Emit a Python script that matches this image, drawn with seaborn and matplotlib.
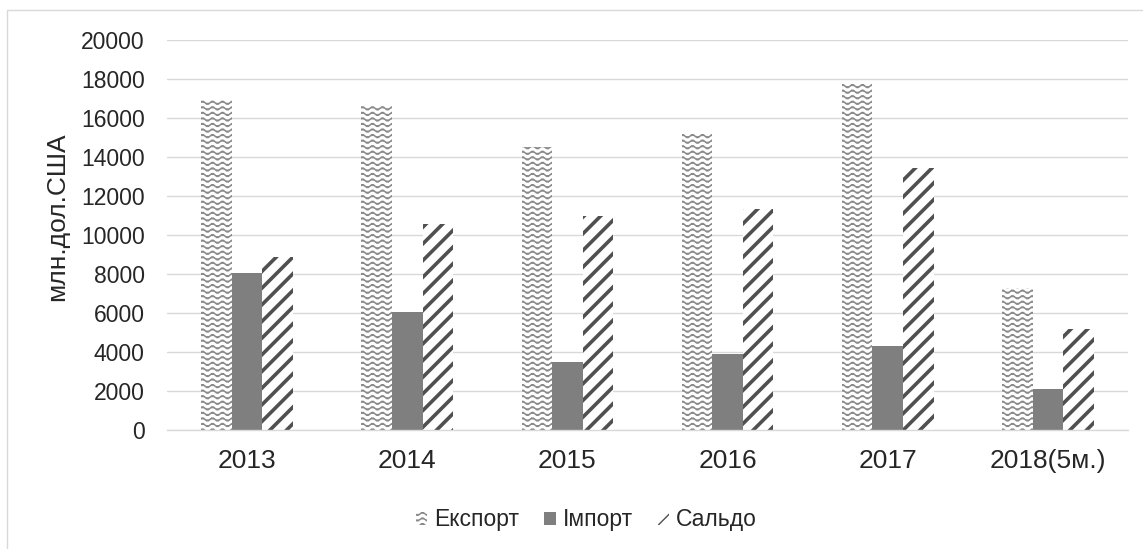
import warnings
import numpy as np
import pandas as pd
import matplotlib
matplotlib.use("Agg")
import matplotlib.pyplot as plt
import matplotlib.hatch as mhatch
from matplotlib.path import Path
from matplotlib.patches import Patch, Rectangle
import seaborn as sns

warnings.filterwarnings("ignore")

# Data (млн. дол. США)
years = ["2013", "2014", "2015", "2016", "2017", "2018(5м.)"]
series = ["Експорт", "Імпорт", "Сальдо"]
export = [16900, 16600, 14500, 15250, 17750, 7280]
imports = [8050, 6070, 3500, 3900, 4300, 2100]
saldo = [8870, 10550, 11000, 11350, 13450, 5200]
y_ticks = list(range(0, 20001, 2000))


# wavy hatch like the Excel pattern fill, used as '~'
class WaveHatch(mhatch.HatchPatternBase):
    def __init__(self, hatch, density):
        self.num_lines = int(hatch.count("~") * density)
        self.num_seg = 60
        self.num_vertices = self.num_lines * (self.num_seg + 1)

    def set_vertices_and_codes(self, vertices, codes):
        xs = np.linspace(0.0, 1.0, self.num_seg + 1)
        step = 1.0 / max(self.num_lines, 1)
        amp = step * 0.28
        n = self.num_seg + 1
        for i in range(self.num_lines):
            y0 = (i + 0.5) * step
            vertices[i * n:(i + 1) * n, 0] = xs
            vertices[i * n:(i + 1) * n, 1] = y0 + amp * np.sin(2 * np.pi * 10 * xs)
            codes[i * n] = Path.MOVETO
            codes[i * n + 1:(i + 1) * n] = Path.LINETO


mhatch._hatch_types.append(WaveHatch)

df = pd.DataFrame({
    "year": years * 3,
    "series": [series[0]] * 6 + [series[1]] * 6 + [series[2]] * 6,
    "value": export + imports + saldo,
})

sns.set_style("white")
plt.rcParams["font.family"] = ["Liberation Sans", "DejaVu Sans"]

fig = plt.figure(figsize=(11.43, 5.49), dpi=100)
ax = fig.add_axes([0.1461, 0.2168, 0.8408, 0.7103])

sns.barplot(data=df, x="year", y="value", hue="series", hue_order=series,
            palette=["white", "#7f7f7f", "white"], saturation=1,
            width=0.572, gap=0, legend=False, ax=ax)

styles = [
    dict(facecolor="white", edgecolor="#8a8a8a", hatch="~~~", hlw=1.1),
    dict(facecolor="#7f7f7f", edgecolor="#7f7f7f", hatch=None, hlw=1.0),
    dict(facecolor="white", edgecolor="#505050", hatch="//", hlw=2.6),
]


def apply_style(p, st):
    p.set_facecolor(st["facecolor"])
    p.set_edgecolor(st["edgecolor"])
    p.set_linewidth(0)
    p.set_hatch(st["hatch"])
    if hasattr(p, "set_hatch_linewidth"):
        p.set_hatch_linewidth(st["hlw"])


for cont, st in zip(ax.containers, styles):
    for p in cont.patches:
        apply_style(p, st)

ax.set_ylim(0, 20000)
ax.set_yticks(y_ticks)
ax.set_xlim(-0.5, len(years) - 0.5)
ax.yaxis.grid(True, color="#d9d9d9", linewidth=1.0)
ax.set_axisbelow(True)
for s in ["top", "right", "left"]:
    ax.spines[s].set_visible(False)
ax.spines["bottom"].set_color("#d9d9d9")
ax.spines["bottom"].set_linewidth(1.0)
ax.tick_params(axis="y", length=0, pad=16, labelsize=16.5)
ax.tick_params(axis="x", length=0, pad=14, labelsize=19)
ax.set_xlabel("")
ax.set_ylabel("млн.дол.США", fontsize=19)
ax.yaxis.set_label_coords(-0.102, 0.548)

handles = []
for st in styles:
    h = Patch(facecolor=st["facecolor"], edgecolor=st["edgecolor"],
              hatch=st["hatch"], linewidth=0)
    if hasattr(h, "set_hatch_linewidth"):
        h.set_hatch_linewidth(min(st["hlw"], 1.6))
    handles.append(h)
fig.legend(handles, series, loc="center", bbox_to_anchor=(0.513, 0.053),
           ncol=3, frameon=False, fontsize=16.5, handlelength=0.5,
           handleheight=0.5, handletextpad=0.3, columnspacing=1.1)

# light chart-area border
fig.patches.append(Rectangle((0.0061, -0.05), 1.2, 1.0318, transform=fig.transFigure,
                             fill=False, edgecolor="#d9d9d9", linewidth=1.0))

fig.savefig("out.png", dpi=100)
